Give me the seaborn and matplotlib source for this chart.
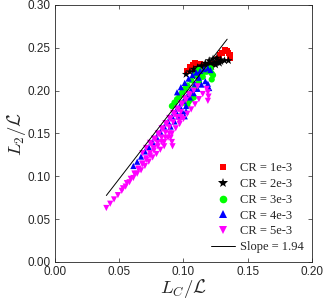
import numpy as np
import pandas as pd
import matplotlib
matplotlib.use("Agg")
import matplotlib.pyplot as plt
import seaborn as sns

# CR = 1e-3 (red squares)
cr1_x = [0.103, 0.105, 0.107, 0.109, 0.111, 0.113,
         0.116, 0.119, 0.122,
         0.127, 0.128, 0.130, 0.132, 0.134, 0.135, 0.136, 0.136]
cr1_y = [0.223, 0.227, 0.230, 0.232, 0.229, 0.231,
         0.229, 0.230, 0.231,
         0.237, 0.241, 0.244, 0.247, 0.246, 0.244, 0.241, 0.238]

# CR = 2e-3 (black stars)
cr2_x = [0.102, 0.105, 0.108, 0.111, 0.114, 0.117, 0.120, 0.123, 0.126, 0.129, 0.132, 0.135,
         0.108, 0.111, 0.114, 0.117, 0.120, 0.123, 0.126, 0.129,
         0.110, 0.113, 0.116, 0.119, 0.122, 0.125, 0.128]
cr2_y = [0.219, 0.222, 0.225, 0.227, 0.228, 0.230, 0.231, 0.232, 0.233, 0.234, 0.235, 0.235,
         0.222, 0.225, 0.229, 0.232, 0.235, 0.237, 0.238, 0.236,
         0.217, 0.220, 0.223, 0.226, 0.228, 0.230, 0.232]

# CR = 3e-3 (green circles)
cr3_x = [0.091, 0.093, 0.095, 0.097, 0.099, 0.101, 0.103, 0.106, 0.109, 0.112,
         0.100, 0.103, 0.106, 0.109, 0.112, 0.115, 0.118, 0.121, 0.122, 0.122,
         0.103, 0.104, 0.106, 0.108,
         0.112, 0.115, 0.118, 0.121, 0.123]
cr3_y = [0.182, 0.186, 0.190, 0.194, 0.198, 0.202, 0.206, 0.212, 0.218, 0.224,
         0.186, 0.192, 0.198, 0.204, 0.210, 0.216, 0.222, 0.226, 0.220, 0.213,
         0.183, 0.187, 0.190, 0.192,
         0.215, 0.220, 0.224, 0.222, 0.218]

# CR = 4e-3 (blue triangles)
cr4_x = [0.061, 0.064, 0.067, 0.070, 0.073, 0.076, 0.079, 0.082, 0.085, 0.088,
         0.091, 0.094, 0.097, 0.100, 0.103, 0.106, 0.109, 0.112,
         0.090, 0.093, 0.096, 0.099, 0.102, 0.102, 0.101,
         0.095, 0.098, 0.101, 0.104, 0.107, 0.110, 0.113, 0.116, 0.119, 0.121,
         0.105, 0.108, 0.111, 0.114, 0.117, 0.119, 0.120]
cr4_y = [0.112, 0.117, 0.123, 0.129, 0.134, 0.140, 0.146, 0.152, 0.158, 0.164,
         0.170, 0.176, 0.182, 0.188, 0.194, 0.201, 0.208, 0.215,
         0.158, 0.164, 0.170, 0.176, 0.182, 0.176, 0.170,
         0.198, 0.204, 0.209, 0.214, 0.218, 0.221, 0.223, 0.225, 0.226, 0.224,
         0.192, 0.197, 0.202, 0.207, 0.211, 0.208, 0.203]

# CR = 5e-3 (magenta down triangles)
cr5_x = [0.040, 0.043, 0.046, 0.049, 0.052, 0.055, 0.058, 0.061, 0.064, 0.067,
         0.070, 0.073, 0.076, 0.079, 0.082, 0.085,
         0.053, 0.056, 0.059, 0.062, 0.065, 0.068, 0.071, 0.074, 0.077, 0.080,
         0.083, 0.086, 0.089, 0.090, 0.091, 0.0915,
         0.062, 0.065, 0.068, 0.071, 0.074, 0.077, 0.080, 0.083, 0.086, 0.089,
         0.092, 0.095, 0.098, 0.098, 0.097,
         0.075, 0.078, 0.081, 0.084, 0.087, 0.090, 0.093, 0.096, 0.099, 0.102,
         0.105, 0.108, 0.111,
         0.085, 0.088, 0.091, 0.094, 0.097, 0.100, 0.103, 0.106, 0.109, 0.112,
         0.115, 0.118, 0.119, 0.1195, 0.119,
         0.068, 0.071, 0.074, 0.077, 0.080, 0.083, 0.086, 0.089, 0.092, 0.095,
         0.098, 0.101, 0.104]
cr5_y = [0.063, 0.068, 0.073, 0.078, 0.083, 0.088, 0.093, 0.098, 0.103, 0.107,
         0.112, 0.117, 0.122, 0.126, 0.131, 0.135,
         0.086, 0.092, 0.097, 0.103, 0.108, 0.114, 0.119, 0.124, 0.130, 0.135,
         0.140, 0.145, 0.150, 0.145, 0.140, 0.135,
         0.103, 0.109, 0.115, 0.121, 0.127, 0.133, 0.139, 0.145, 0.151, 0.157,
         0.163, 0.169, 0.175, 0.169, 0.164,
         0.137, 0.143, 0.149, 0.155, 0.161, 0.167, 0.172, 0.178, 0.184, 0.189,
         0.195, 0.200, 0.205,
         0.140, 0.145, 0.150, 0.156, 0.161, 0.167, 0.173, 0.178, 0.184, 0.190,
         0.196, 0.202, 0.198, 0.193, 0.188,
         0.127, 0.133, 0.139, 0.144, 0.150, 0.156, 0.162, 0.168, 0.174, 0.179,
         0.185, 0.191, 0.196]

CR_LABELS = ["CR = 1e-3", "CR = 2e-3", "CR = 3e-3", "CR = 4e-3", "CR = 5e-3"]
COLORS = ["#FF0000", "#000000", "#00FF00", "#0000FF", "#FF00FF"]
MARKERS = ["s", "*", "o", "^", "v"]
MARKER_AREA = [18, 40, 20, 20, 20]
LEGEND_MS = [4.5, 7, 5.5, 5.5, 5.5]

slope = 1.94
slope_x = np.array([0.040, 0.134])

x_ticks = [0.00, 0.05, 0.10, 0.15, 0.20]
y_ticks = [0.00, 0.05, 0.10, 0.15, 0.20, 0.25, 0.30]

frames = []
for lab, xs, ys in zip(CR_LABELS,
                       [cr1_x, cr2_x, cr3_x, cr4_x, cr5_x],
                       [cr1_y, cr2_y, cr3_y, cr4_y, cr5_y]):
    frames.append(pd.DataFrame({"x": xs, "y": ys, "CR": lab}))
df = pd.concat(frames, ignore_index=True)

sns.set_theme(style="ticks")
plt.rcParams["font.family"] = ["Liberation Sans", "DejaVu Sans"]
plt.rcParams["mathtext.fontset"] = "cm"

fig = plt.figure(figsize=(3.25, 3.05), dpi=100)
ax = fig.add_axes([0.169, 0.141, 0.791, 0.843])

sns.scatterplot(data=df, x="x", y="y", hue="CR", style="CR", size="CR",
                palette=dict(zip(CR_LABELS, COLORS)),
                markers=dict(zip(CR_LABELS, MARKERS)),
                sizes=dict(zip(CR_LABELS, MARKER_AREA)),
                linewidth=0, ax=ax)
sns.lineplot(x=slope_x, y=slope * slope_x, color="black", lw=0.7,
             label=f"Slope = {slope:.2f}", ax=ax)

ax.set_xlim(0, 0.2)
ax.set_ylim(0, 0.3)
ax.set_xticks(x_ticks)
ax.set_yticks(y_ticks)
ax.set_xticklabels([f"{v:.2f}" for v in x_ticks])
ax.set_yticklabels([f"{v:.2f}" for v in y_ticks])
ax.tick_params(direction="in", length=3, width=0.5, top=True, right=True,
               labelsize=8.5, pad=3, colors="#262626")
for sp in ax.spines.values():
    sp.set_linewidth(0.6)
    sp.set_color("#262626")

ax.set_xlabel(r"$L_C/\mathcal{L}$", fontsize=13.5, labelpad=-1)
ax.set_ylabel(r"$L_2/\mathcal{L}$", fontsize=13.5, labelpad=0)

handles, labels = ax.get_legend_handles_labels()
for h, ms in zip(handles[:5], LEGEND_MS):
    h.set_markersize(ms)
leg = ax.legend(handles, labels, loc="lower right", frameon=False,
                prop={"family": "Liberation Serif", "size": 9},
                handlelength=1.9, handletextpad=0.4, labelspacing=0.3,
                borderaxespad=0.3)

fig.savefig("out.png", dpi=100)
